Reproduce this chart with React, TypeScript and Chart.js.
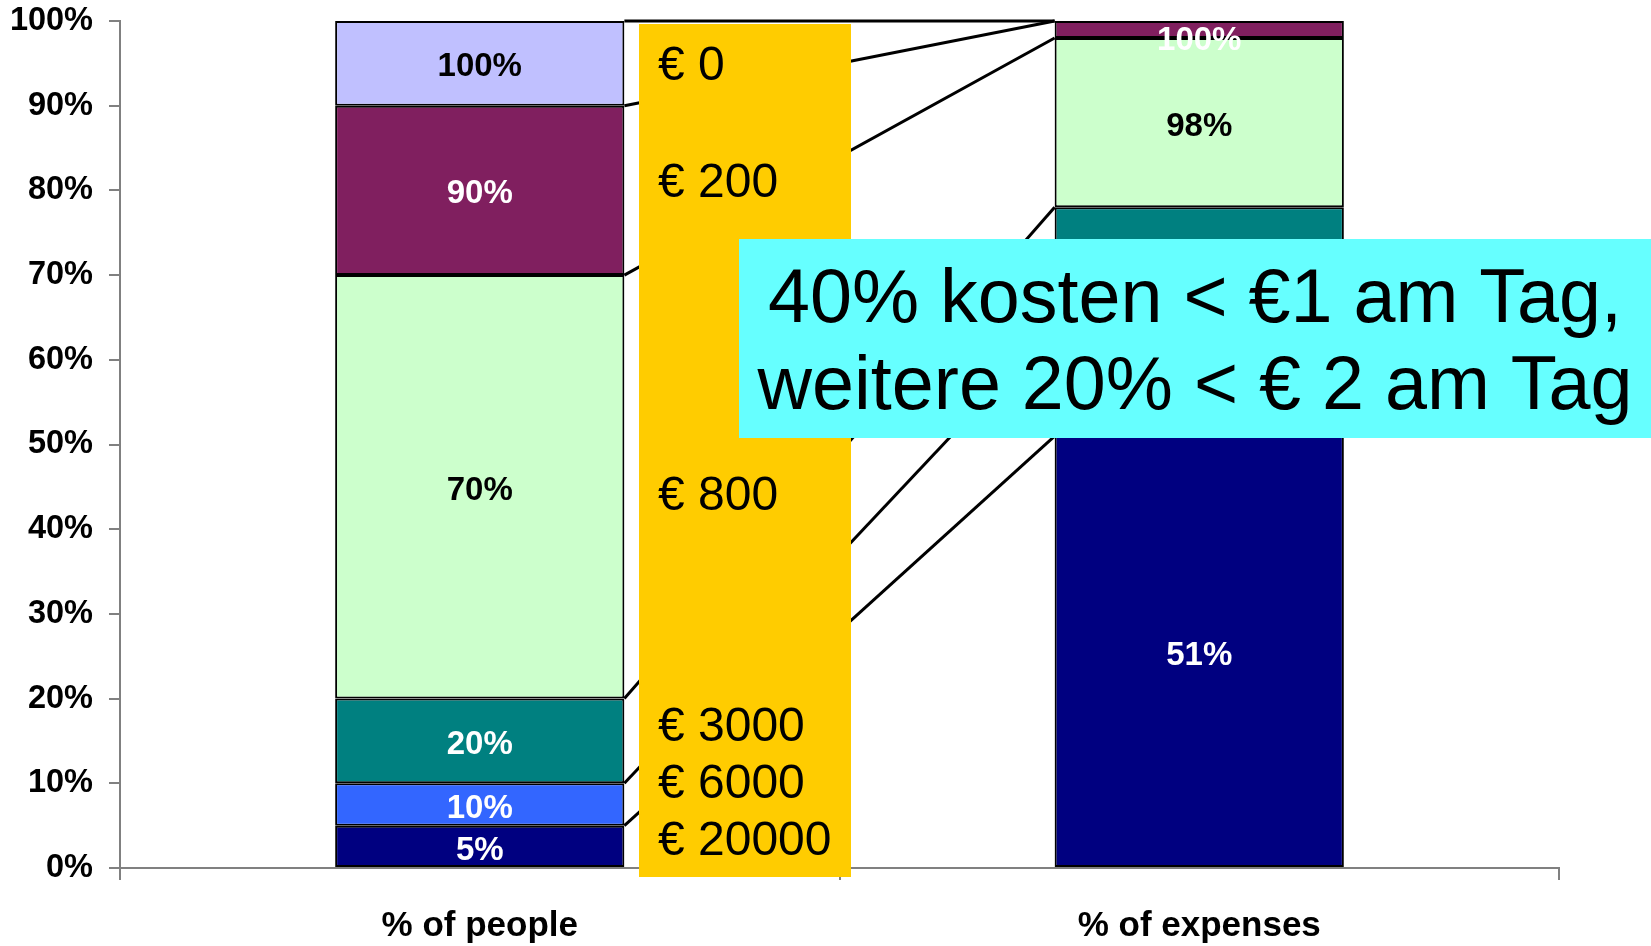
import React, { useEffect, useRef } from 'react';
import { Chart, registerables } from 'chart.js';

Chart.register(...registerables);

const FONT = "'Liberation Sans', Arial, Helvetica, sans-serif";

const categories = ['% of people', '% of expenses'];
const seriesNames = ['€ 20000', '€ 6000', '€ 3000', '€ 800', '€ 200', '€ 0'];
const peopleCumulative = [5, 10, 20, 70, 90, 100];
const expensesCumulative = [51, 64, 78, 98, 100, 100];
const seriesColors = ['#000080', '#3366FF', '#008080', '#CCFFCC', '#801F5F', '#C0C0FF'];
const labelColors = ['#FFFFFF', '#FFFFFF', '#FFFFFF', '#000000', '#FFFFFF', '#000000'];
const incomeLabels = ['€ 20000', '€ 6000', '€ 3000', '€ 800', '€ 200', '€ 0'];
const incomeLabelBaselines = [1.5, 8.3, 15.0, 42.3, 79.2, 93.0];
const calloutLines = ['40% kosten < €1 am Tag,', 'weitere 20% < € 2 am Tag'];
const yMin = 0;
const yMax = 100;
const yStep = 10;

const segments = (cum: number[]) => cum.map((v, i) => v - (i === 0 ? 0 : cum[i - 1]));
const peopleSegments = segments(peopleCumulative);
const expensesSegments = segments(expensesCumulative);

const overlayPlugin = {
  id: 'overlay',
  afterDatasetsDraw(chart: any) {
    const ctx = chart.ctx;
    const y = chart.scales.y;
    const area = chart.chartArea;
    const n = seriesNames.length;
    const cums = [peopleCumulative, expensesCumulative];
    const topMeta = chart.getDatasetMeta(n - 1);
    const leftEl = topMeta.data[0];
    const rightEl = topMeta.data[1];
    const leftEdge = leftEl.x + leftEl.width / 2;
    const rightEdge = rightEl.x - rightEl.width / 2;
    ctx.save();
    ctx.strokeStyle = '#000000';
    ctx.lineWidth = 3;
    for (let i = 0; i < n; i++) {
      ctx.beginPath();
      ctx.moveTo(leftEdge, y.getPixelForValue(peopleCumulative[i]));
      ctx.lineTo(rightEdge, y.getPixelForValue(expensesCumulative[i]));
      ctx.stroke();
    }
    ctx.font = `bold 33px ${FONT}`;
    ctx.textAlign = 'center';
    ctx.textBaseline = 'middle';
    for (let c = 0; c < 2; c++) {
      const cum = cums[c];
      for (let i = 0; i < n; i++) {
        const lo = i === 0 ? 0 : cum[i - 1];
        const hi = cum[i];
        if (hi - lo <= 0) continue;
        const el = chart.getDatasetMeta(i).data[c];
        let cy = y.getPixelForValue((lo + hi) / 2);
        cy = Math.max(cy, area.top + 16);
        ctx.fillStyle = labelColors[i];
        ctx.fillText(`${hi}%`, el.x, cy + 4);
      }
    }
    ctx.restore();
  },
  afterDraw(chart: any) {
    const ctx = chart.ctx;
    const y = chart.scales.y;
    ctx.save();
    ctx.fillStyle = '#FFCC00';
    ctx.fillRect(639, 24, 212, 853);
    ctx.fillStyle = '#000000';
    ctx.font = `48px ${FONT}`;
    ctx.textAlign = 'left';
    ctx.textBaseline = 'alphabetic';
    incomeLabels.forEach((t, i) => {
      ctx.fillText(t, 658, y.getPixelForValue(incomeLabelBaselines[i]));
    });
    ctx.fillStyle = '#66FFFF';
    ctx.fillRect(739, 239, 912, 199);
    ctx.fillStyle = '#000000';
    ctx.font = `75.5px ${FONT}`;
    ctx.textAlign = 'center';
    ctx.fillText(calloutLines[0], 1195, 322);
    ctx.fillText(calloutLines[1], 1195, 409);
    ctx.restore();
  },
};

export default function App() {
  const ref = useRef<HTMLCanvasElement>(null);
  useEffect(() => {
    document.body.style.margin = '0';
    const canvas = ref.current!;
    const chart = new Chart(canvas, {
      type: 'bar',
      data: {
        labels: categories,
        datasets: seriesNames.map((name, i) => ({
          label: name,
          data: [peopleSegments[i], expensesSegments[i]],
          backgroundColor: seriesColors[i],
          borderColor: '#000000',
          borderWidth: 2,
          borderSkipped: false,
          categoryPercentage: 1,
          barPercentage: 0.402,
        })),
      },
      options: {
        animation: false,
        responsive: false,
        devicePixelRatio: 1,
        layout: { padding: { top: 21, right: 92, left: 0, bottom: 0 } },
        plugins: { legend: { display: false }, tooltip: { enabled: false } },
        scales: {
          x: {
            stacked: true,
            offset: true,
            grid: { offset: true, drawOnChartArea: false, drawTicks: true, tickLength: 12, color: '#808080', lineWidth: 2 },
            border: { color: '#808080', width: 2 },
            ticks: { color: '#000000', font: { family: FONT, size: 35, weight: 'bold' }, padding: 25, maxRotation: 0 },
            afterFit: (s: any) => { s.height = 78; s.paddingLeft = 0; s.paddingRight = 0; },
          },
          y: {
            stacked: true,
            min: yMin,
            max: yMax,
            grid: { drawOnChartArea: false, drawTicks: true, tickLength: 11, color: '#808080', lineWidth: 2 },
            border: { color: '#808080', width: 2 },
            ticks: {
              stepSize: yStep,
              color: '#000000',
              font: { family: FONT, size: 32.5, weight: 'bold' },
              padding: 16,
              callback: (v: any) => `${v}%`,
            },
            afterFit: (s: any) => { s.width = 120; s.paddingTop = 0; s.paddingBottom = 0; },
          },
        },
      },
      plugins: [overlayPlugin],
    });
    return () => chart.destroy();
  }, []);
  return (
    <div style={{ width: 1651, height: 946, position: 'relative', background: '#ffffff' }}>
      <canvas ref={ref} width={1651} height={946} style={{ display: 'block' }} />
    </div>
  );
}
